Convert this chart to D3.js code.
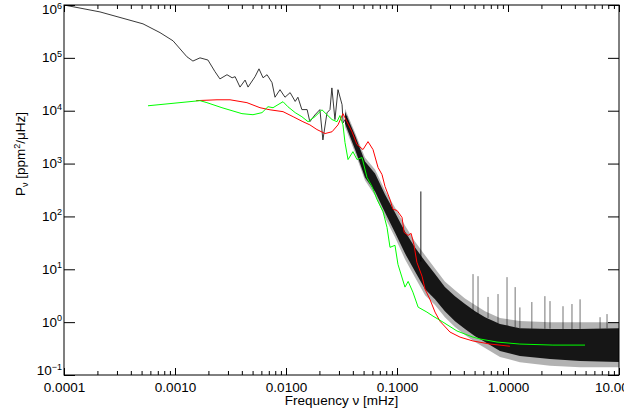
<!DOCTYPE html>
<html>
<head>
<meta charset="utf-8">
<script src="https://cdn.jsdelivr.net/npm/d3@7"></script>
<style>
  body { margin: 0; background: #fff; }
  svg { display: block; }
</style>
</head>
<body>
<div id="chart"></div>
<script>
// frequency in mHz, power in ppm^2/uHz

// black spectrum, smooth low-frequency part
const blackLow = [
  [1.00e-4, 1.0e6], [2.11e-4, 7.4e5], [5.15e-4, 4.4e5], [7.33e-4, 3.0e5], [9.6e-4, 2.1e5],
  [1.28e-3, 1.05e5], [1.45e-3, 8.7e4], [1.68e-3, 1.0e5], [1.98e-3, 9.1e4], [2.29e-3, 5.5e4],
  [2.54e-3, 4.0e4], [2.94e-3, 4.8e4], [3.27e-3, 4.2e4], [3.48e-3, 4.4e4], [3.85e-3, 2.8e4],
  [4.28e-3, 3.8e4], [4.55e-3, 2.8e4], [5.26e-3, 4.4e4], [5.71e-3, 6.2e4], [6.21e-3, 4.2e4],
  [6.75e-3, 4.8e4], [7.48e-3, 3.4e4], [7.96e-3, 1.8e4], [8.83e-3, 2.5e4], [9.79e-3, 1.8e4],
  [1.09e-2, 2.2e4], [1.21e-2, 1.5e4], [1.28e-2, 1.8e4], [1.39e-2, 1.05e4], [1.55e-2, 1.05e4],
  [1.64e-2, 6.2e3], [1.82e-2, 8.3e3], [2.02e-2, 1.05e4], [2.15e-2, 2.8e3], [2.34e-2, 9.1e3],
  [2.49e-2, 1.05e4], [2.59e-2, 2.7e4], [2.76e-2, 6.8e3], [2.94e-2, 2.5e4], [3.20e-2, 1.3e4],
  [3.27e-2, 5.9e3], [3.55e-2, 7.8e3]
];

// black spectrum, noisy high-frequency part (envelopes of the dense band)
const bandFreq   = [0.0340, 0.0419, 0.0515, 0.0634, 0.0780, 0.0959, 0.118, 0.145, 0.179, 0.220,
                    0.270, 0.333, 0.410, 0.505, 0.621, 0.847, 1.28, 2.39, 4.46, 10.0];
const bandTop    = [1.09e4, 3.85e3, 1.30e3, 771, 310, 148, 67.6, 33.7, 18.4, 10.4,
                    5.9, 4.0, 2.8, 2.1, 1.6, 1.2, 1.05, 1.0, 1.0, 1.0];
const bandHi     = [9.6e3, 3.4e3, 1.09e3, 647, 260, 119, 52, 26, 14.2, 8.1,
                    4.6, 3.1, 2.2, 1.6, 1.24, 0.92, 0.77, 0.74, 0.74, 0.77];
const bandLo     = [5.7e3, 1.84e3, 545, 297, 119, 49.9, 20, 9.2, 4.2, 2.7,
                    1.6, 1.04, 0.74, 0.54, 0.42, 0.284, 0.228, 0.200, 0.184, 0.176];
const bandBottom = [4.99e3, 1.61e3, 478, 249, 95.7, 40.2, 15.5, 7.06, 3.23, 2.1,
                    1.24, 0.81, 0.57, 0.42, 0.323, 0.219, 0.175, 0.15, 0.14, 0.14];

// narrow peaks sticking out of the band
const spikeFreq = [0.164, 0.484, 0.537, 0.661, 0.813, 0.980, 1.16, 1.28, 1.64, 2.15, 2.39, 3.13, 3.77, 4.46, 6.75, 7.80];
const spikeBase = [14, 1.6, 1.4, 1.2, 0.95, 0.85, 0.8, 0.77, 0.75, 0.75, 0.75, 0.74, 0.74, 0.74, 0.75, 0.76];
const spikePeak = [297, 8.1, 7.4, 3.0, 3.4, 7.1, 4.6, 1.9, 2.4, 3.1, 2.5, 2.0, 2.2, 2.7, 1.24, 1.42];

const redSeries = [
  [1.55e-3, 1.55e4], [2.39e-3, 1.61e4], [3.13e-3, 1.61e4], [4.45e-3, 1.42e4], [5.83e-3, 1.14e4],
  [7.18e-3, 1.04e4], [9.40e-3, 9.6e3], [1.16e-2, 7.7e3], [1.42e-2, 6.2e3], [1.64e-2, 5.4e3],
  [1.90e-2, 4.4e3], [2.25e-2, 3.7e3], [2.60e-2, 4.0e3], [2.94e-2, 5.4e3], [3.26e-2, 8.8e3],
  [3.54e-2, 6.2e3], [3.93e-2, 4.0e3], [4.36e-2, 2.3e3], [4.94e-2, 1.84e3], [5.48e-2, 2.6e3],
  [6.08e-2, 1.84e3], [6.75e-2, 841], [7.33e-2, 619], [7.80e-2, 368], [8.65e-2, 209],
  [9.20e-2, 136], [0.100, 130], [0.111, 95.7], [0.116, 49.9], [0.126, 43.8],
  [0.134, 47.8], [0.142, 29.6], [0.151, 13.6], [0.168, 7.4], [0.179, 4.2],
  [0.198, 2.7], [0.220, 1.55], [0.244, 1.04], [0.300, 0.65], [0.370, 0.52],
  [0.484, 0.44], [0.689, 0.385], [1.04, 0.35]
];

const greenSeries = [
  [5.71e-4, 1.24e4], [1.68e-3, 1.55e4], [1.94e-3, 1.42e4], [2.65e-3, 1.14e4], [4.01e-3, 8.8e3],
  [5.04e-3, 8.4e3], [6.08e-3, 9.2e3], [6.88e-3, 1.19e4], [7.64e-3, 1.14e4], [8.47e-3, 1.30e4],
  [9.40e-3, 1.48e4], [1.04e-2, 1.19e4], [1.21e-2, 9.2e3], [1.39e-2, 7.7e3], [1.58e-2, 6.2e3],
  [1.82e-2, 7.7e3], [2.11e-2, 1.04e4], [2.34e-2, 8.4e3], [2.60e-2, 6.8e3], [2.88e-2, 6.2e3],
  [3.06e-2, 8.1e3], [3.26e-2, 5.4e3], [3.40e-2, 2.5e3], [3.62e-2, 1.19e3], [4.01e-2, 1.68e3],
  [4.36e-2, 1.19e3], [4.84e-2, 1.30e3], [5.37e-2, 545], [5.95e-2, 368], [6.61e-2, 209],
  [7.48e-2, 124], [8.13e-2, 61.9], [8.65e-2, 26.0], [9.59e-2, 28.4], [0.102, 12.4],
  [0.118, 4.6], [0.126, 5.9], [0.139, 3.7], [0.155, 1.92], [0.186, 1.55],
  [0.211, 1.30], [0.260, 1.00], [0.347, 0.68], [0.484, 0.52], [0.560, 0.48],
  [0.796, 0.42], [1.28, 0.385], [2.54, 0.368], [4.94, 0.368]
];

const xMajor = [0.0001, 0.001, 0.01, 0.1, 1, 10];
const yExponents = [-1, 0, 1, 2, 3, 4, 5, 6];

const width = 624, height = 415;
const font = '"Liberation Sans", Arial, Helvetica, sans-serif';
const plot = {left: 64, right: 619, top: 5, bottom: 375};

const svg = d3.select("#chart").append("svg")
  .attr("width", width)
  .attr("height", height)
  .style("font-family", font);

const x = d3.scaleLog().domain([1e-4, 10]).range([plot.left, plot.right]);
const y = d3.scaleLog().domain([0.1, 1e6]).range([plot.bottom, plot.top]);

svg.append("clipPath").attr("id", "clip")
  .append("rect")
    .attr("x", plot.left).attr("y", plot.top)
    .attr("width", plot.right - plot.left).attr("height", plot.bottom - plot.top);

const g = svg.append("g").attr("clip-path", "url(#clip)");

const line = d3.line().x(d => x(d[0])).y(d => y(d[1]));

// black spectrum
g.append("path")
  .datum(blackLow)
  .attr("d", line)
  .attr("fill", "none")
  .attr("stroke", "#222")
  .attr("stroke-width", 0.9);

const band = bandFreq.map((f, i) => ({f: f, top: bandTop[i], hi: bandHi[i], lo: bandLo[i], bottom: bandBottom[i]}));

g.append("path")
  .datum(band)
  .attr("d", d3.area().x(d => x(d.f)).y0(d => y(d.bottom)).y1(d => y(d.top)))
  .attr("fill", "#000")
  .attr("fill-opacity", 0.3);

g.append("path")
  .datum(band)
  .attr("d", d3.area().x(d => x(d.f)).y0(d => y(d.lo)).y1(d => y(d.hi)))
  .attr("fill", "#000")
  .attr("fill-opacity", 0.88);

g.selectAll(".spike")
  .data(spikeFreq)
  .enter()
  .append("line")
    .attr("class", "spike")
    .attr("x1", d => x(d)).attr("x2", d => x(d))
    .attr("y1", (d, i) => y(spikeBase[i]))
    .attr("y2", (d, i) => y(spikePeak[i]))
    .attr("stroke", "#000")
    .attr("stroke-opacity", (d, i) => i == 0 ? 0.9 : 0.55)
    .attr("stroke-width", 1);

g.append("path")
  .datum(redSeries)
  .attr("d", line)
  .attr("fill", "none")
  .attr("stroke", "#ff0000")
  .attr("stroke-width", 1);

g.append("path")
  .datum(greenSeries)
  .attr("d", line)
  .attr("fill", "none")
  .attr("stroke", "#00ff00")
  .attr("stroke-width", 1);

// frame
svg.append("rect")
  .attr("x", plot.left).attr("y", plot.top)
  .attr("width", plot.right - plot.left).attr("height", plot.bottom - plot.top)
  .attr("fill", "none")
  .attr("stroke", "#000")
  .attr("stroke-width", 1);

// axes
const isDecade = v => Math.abs(Math.log10(v) - Math.round(Math.log10(v))) < 1e-6;
const xMinor = x.ticks().filter(v => !isDecade(v));
const yMajor = yExponents.map(e => Math.pow(10, e));

function styleAxis(sel) {
  sel.select(".domain").remove();
  sel.attr("font-size", 13.5).attr("font-family", font).style("color", "#000");
}

svg.append("g").attr("transform", "translate(0," + plot.bottom + ")")
  .call(d3.axisBottom(x).tickValues(xMinor).tickSizeInner(-4).tickSizeOuter(0).tickFormat(""))
  .call(styleAxis);
svg.append("g").attr("transform", "translate(0," + plot.bottom + ")")
  .call(d3.axisBottom(x).tickValues(xMajor).tickSizeInner(-7).tickSizeOuter(0).tickPadding(7).tickFormat(d3.format(".4f")))
  .call(styleAxis);
svg.append("g").attr("transform", "translate(0," + plot.top + ")")
  .call(d3.axisTop(x).tickValues(xMinor).tickSizeInner(-4).tickSizeOuter(0).tickFormat(""))
  .call(styleAxis);
svg.append("g").attr("transform", "translate(0," + plot.top + ")")
  .call(d3.axisTop(x).tickValues(xMajor).tickSizeInner(-7).tickSizeOuter(0).tickFormat(""))
  .call(styleAxis);
svg.append("g").attr("transform", "translate(" + plot.left + ",0)")
  .call(d3.axisLeft(y).tickValues(yMajor).tickSizeInner(-11).tickSizeOuter(0).tickFormat(""))
  .call(styleAxis);
svg.append("g").attr("transform", "translate(" + plot.right + ",0)")
  .call(d3.axisRight(y).tickValues(yMajor).tickSizeInner(-11).tickSizeOuter(0).tickFormat(""))
  .call(styleAxis);

// y tick labels 10^n
const yLabels = svg.append("g")
  .attr("font-size", 13.5)
  .attr("text-anchor", "end")
  .attr("fill", "#000");

yExponents.forEach(e => {
  const base = Math.min(Math.max(y(Math.pow(10, e)) + 4.5, 14), plot.bottom);
  const t = yLabels.append("text").attr("x", 62).attr("y", base);
  t.append("tspan").text("10");
  t.append("tspan").attr("font-size", 9).attr("dy", -5.5)
    .text(e < 0 ? "\u2212" + (-e) : String(e));
});

// axis titles
svg.append("text")
  .attr("x", (plot.left + plot.right) / 2)
  .attr("y", 405)
  .attr("text-anchor", "middle")
  .attr("font-size", 13.5)
  .text("Frequency \u03bd [mHz]");

const yt = svg.append("text")
  .attr("transform", "translate(25,154) rotate(-90)")
  .attr("text-anchor", "middle")
  .attr("font-size", 13.5);
yt.append("tspan").text("P");
yt.append("tspan").attr("font-size", 9).attr("dy", 3).text("\u03bd");
yt.append("tspan").attr("dy", -3).text(" [ppm");
yt.append("tspan").attr("font-size", 9).attr("dy", -5).text("2");
yt.append("tspan").attr("dy", 5).text("/\u03bcHz]");
</script>
</body>
</html>
